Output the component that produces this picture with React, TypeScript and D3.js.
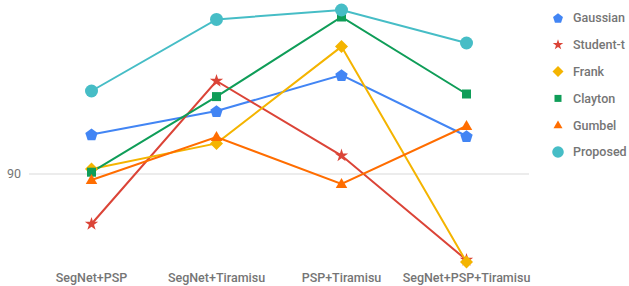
import React from "react";
import * as d3 from "d3";

const categories = ["SegNet+PSP", "SegNet+Tiramisu", "PSP+Tiramisu", "SegNet+PSP+Tiramisu"];
const seriesNames = ["Gaussian", "Student-t", "Frank", "Clayton", "Gumbel", "Proposed"];
const gaussian = [91.98, 93.15, 94.95, 91.9];
const studentT = [87.5, 94.65, 90.92, 85.7];
const frank = [90.25, 91.53, 96.37, 85.6];
const clayton = [90.09, 93.87, 97.85, 94.0];
const gumbel = [89.7, 91.85, 89.5, 92.4];
const proposed = [94.15, 97.73, 98.2, 96.55];
const yTicks = [90];
const colors = ["#4285F4", "#DB4437", "#F4B400", "#0F9D58", "#FF6D00", "#46BDC6"];
const shapes = ["pentagon", "star", "diamond", "square", "triangle", "circle"];

const allSeries = [gaussian, studentT, frank, clayton, gumbel, proposed];

function shapePath(shape: string, s: number): string {
  if (shape === "pentagon") {
    const r = s;
    const pts = d3.range(5).map((i) => {
      const a = -Math.PI / 2 + (i * 2 * Math.PI) / 5;
      return [r * Math.cos(a), r * Math.sin(a) + r * 0.1];
    });
    return "M" + pts.map((p) => p.join(",")).join("L") + "Z";
  }
  if (shape === "diamond") {
    return `M0,${-s}L${s},0L0,${s}L${-s},0Z`;
  }
  if (shape === "star") return d3.symbol(d3.symbolStar, s)()!;
  if (shape === "square") return `M${-s / 2},${-s / 2}h${s}v${s}h${-s}Z`;
  if (shape === "triangle") {
    const h = (s * Math.sqrt(3)) / 2;
    return `M0,${-h * 0.6}L${s / 2},${h * 0.4}L${-s / 2},${h * 0.4}Z`;
  }
  return d3.symbol(d3.symbolCircle, Math.PI * s * s)()!;
}

const markerSize = [6.5, 55, 6.5, 9, 11.5, 6.5];
const legendSize = [5.2, 34, 5.5, 7, 9, 5.8];

export default function App() {
  const W = 629;
  const H = 286;
  const x = d3.scaleBand().domain(categories).range([29, 529]);
  const y = d3.scaleLinear().domain([85, 99]).range([274, -6]);
  const line = d3
    .line<number>()
    .x((_, i) => (x(categories[i]) as number) + x.bandwidth() / 2)
    .y((d) => y(d));
  const textColor = "#757575";
  return (
    <svg width={W} height={H} style={{ position: "absolute", left: 0, top: 0 }} fontFamily="Roboto">
      <rect width={W} height={H} fill="#fff" />
      {yTicks.map((t) => (
        <g key={t}>
          <line x1={29} x2={529} y1={y(t)} y2={y(t)} stroke="#d9d9d9" strokeWidth={1} />
          <text x={21} y={y(t)} dy="0.35em" textAnchor="end" fontSize={12.5} fill={textColor}>
            {t}
          </text>
        </g>
      ))}
      {allSeries.map((s, k) => (
        <path key={"l" + k} d={line(s)!} fill="none" stroke={colors[k]} strokeWidth={2} />
      ))}
      {allSeries.map((s, k) =>
        s.map((v, i) => (
          <path
            key={"m" + k + "-" + i}
            d={shapePath(shapes[k], markerSize[k])}
            transform={`translate(${(x(categories[i]) as number) + x.bandwidth() / 2},${y(v)})`}
            fill={colors[k]}
          />
        ))
      )}
      {categories.map((c) => (
        <text
          key={c}
          x={(x(c) as number) + x.bandwidth() / 2}
          y={278}
          dy="0.35em"
          textAnchor="middle"
          fontSize={12.5}
          fontWeight={500}
          fill={textColor}
        >
          {c}
        </text>
      ))}
      {seriesNames.map((n, k) => {
        const ly = 18 + k * 26.8;
        return (
          <g key={n} transform={`translate(558,${ly})`}>
            <path d={shapePath(shapes[k], legendSize[k])} fill={colors[k]} />
            <text x={15} dy="0.35em" fontSize={12.5} fontWeight={500} fill={textColor}>
              {n}
            </text>
          </g>
        );
      })}
    </svg>
  );
}
